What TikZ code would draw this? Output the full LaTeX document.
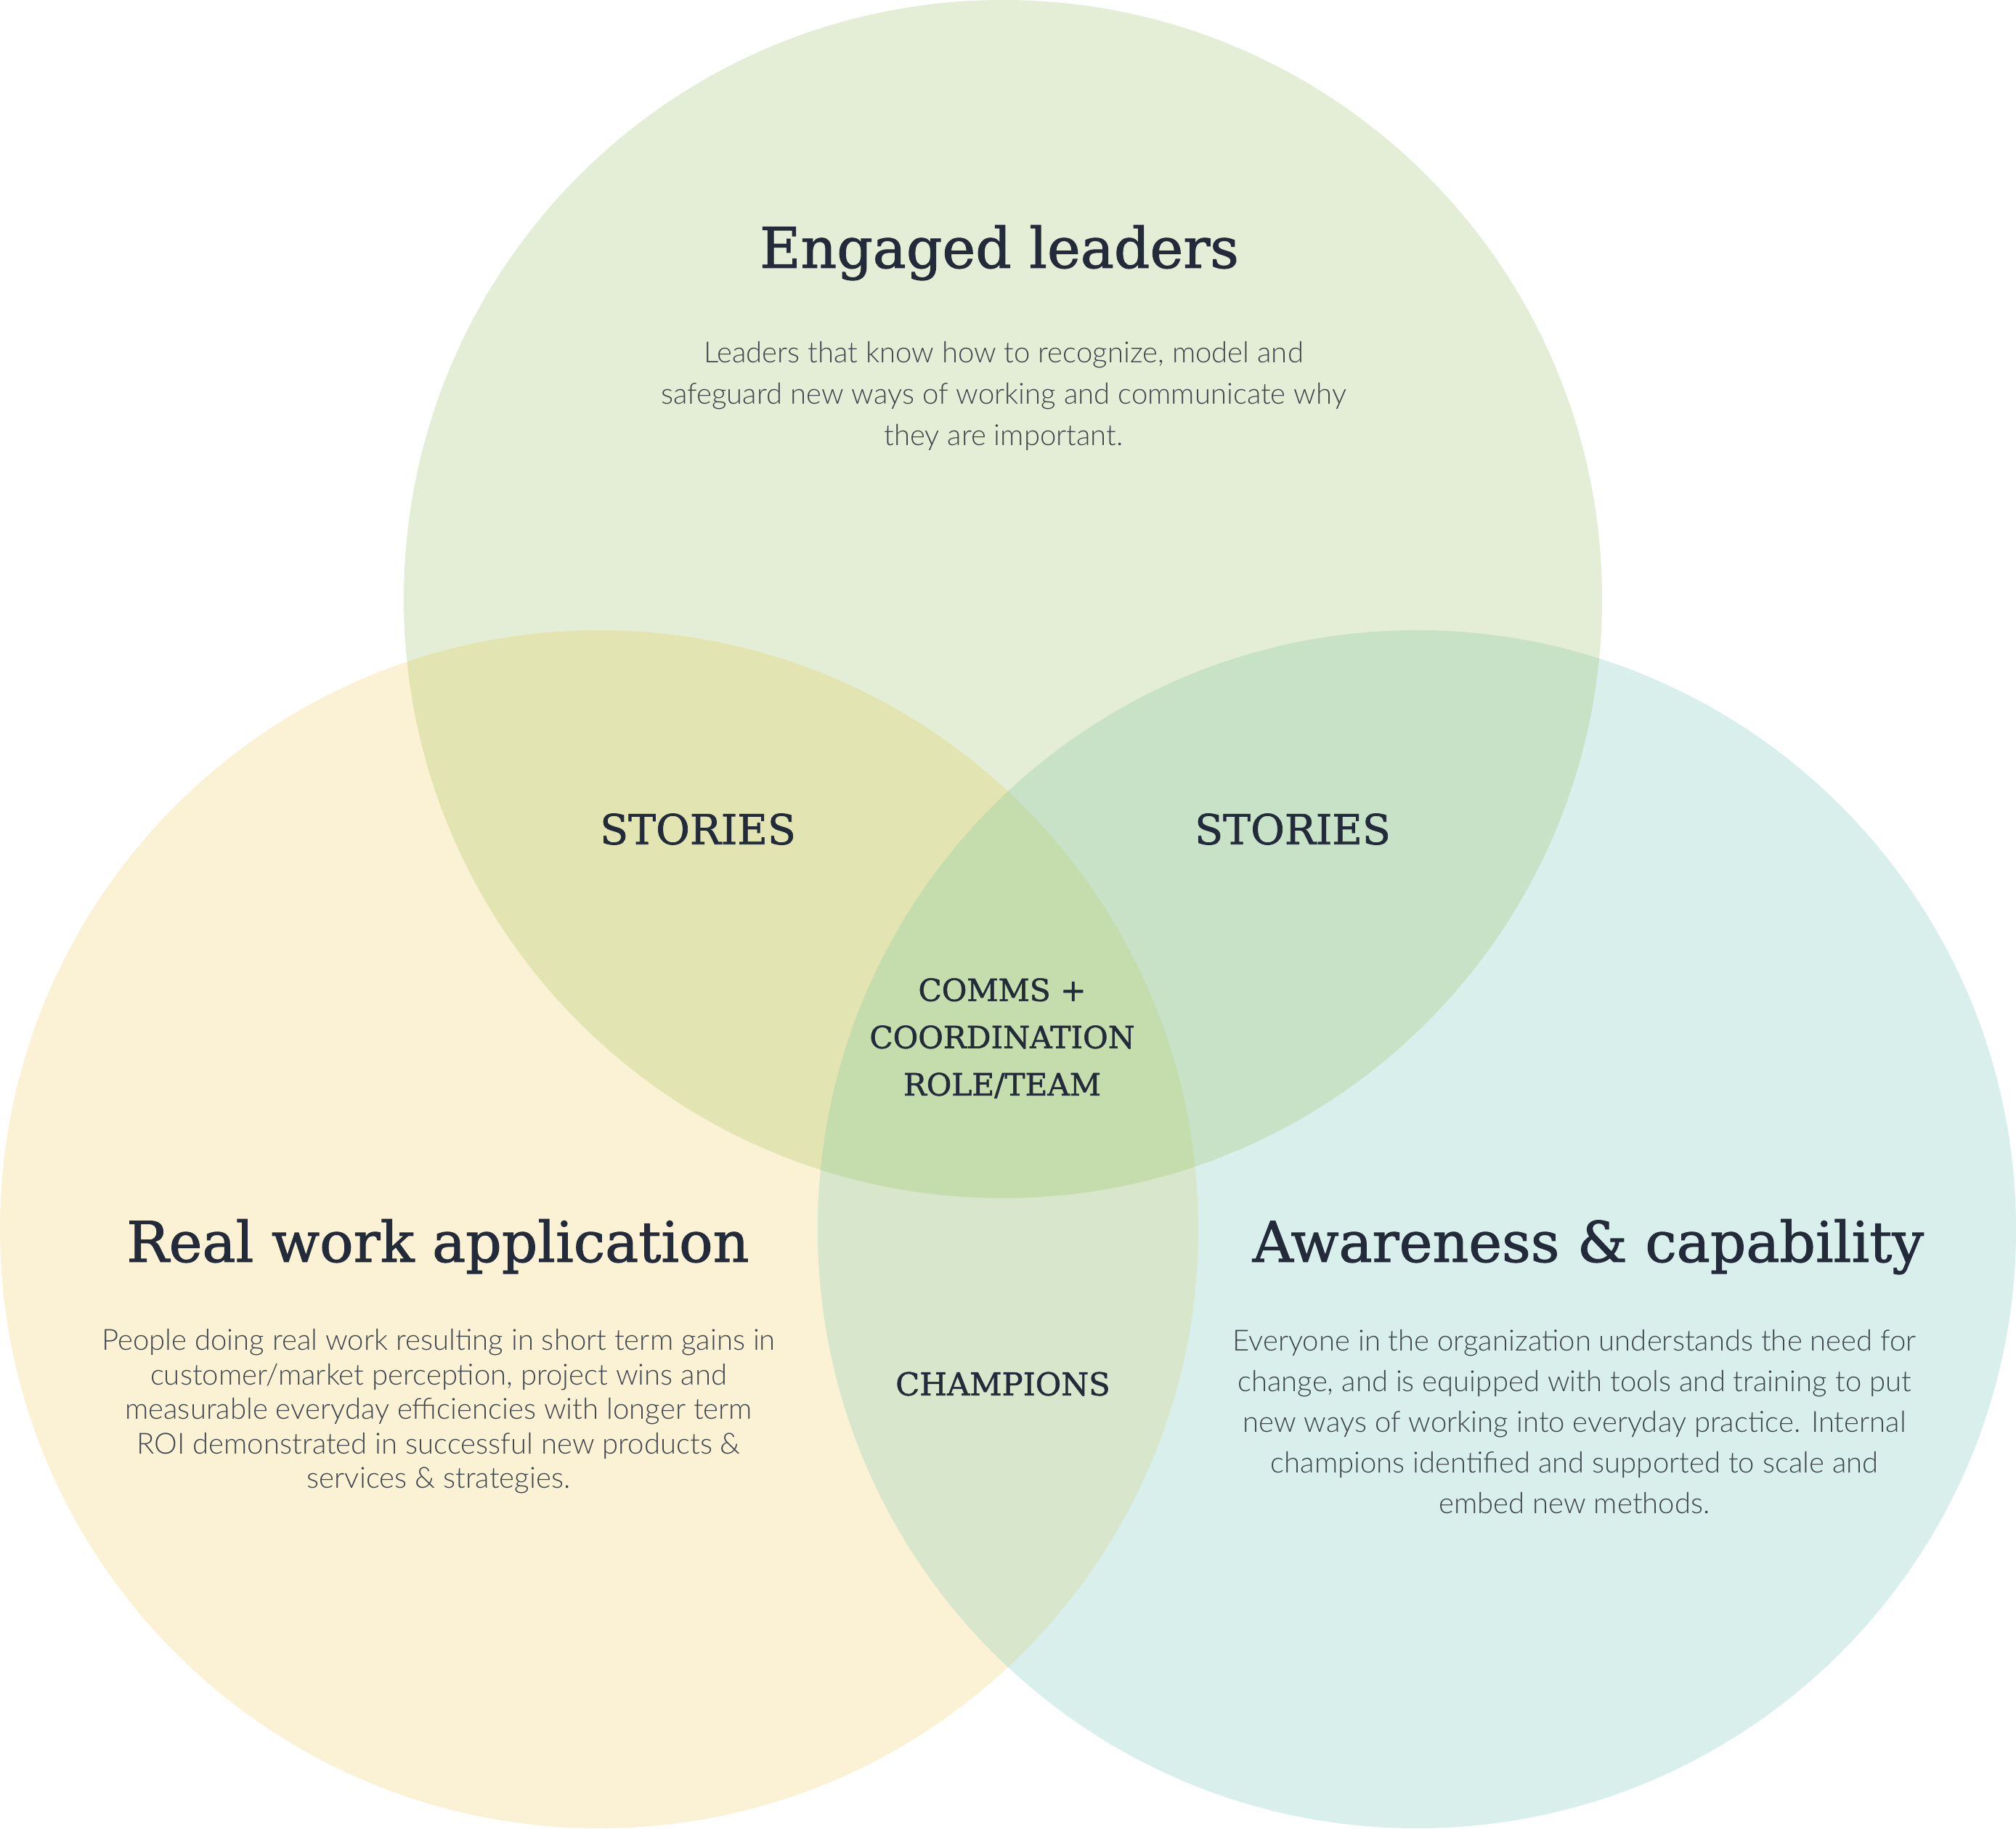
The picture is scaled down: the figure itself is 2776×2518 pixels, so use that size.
\documentclass[tikz,border=0pt]{standalone}
\usepackage{fontspec}
\setmainfont{Lato Light}
\newfontfamily\slabfont[FakeBold=1.3]{DejaVu Serif}
\usetikzlibrary{positioning}
\definecolor{topgreen}{HTML}{E4EED6}
\definecolor{leftcream}{HTML}{FBF2D5}
\definecolor{rightteal}{HTML}{D8EFEB}
\definecolor{tlolive}{HTML}{E2E4B1}
\definecolor{trgreen}{HTML}{C7E2C7}
\definecolor{lrsage}{HTML}{D8E6CB}
\definecolor{midgreen}{HTML}{C5DCAC}
\definecolor{ink}{HTML}{232B3A}
\definecolor{greytext}{HTML}{3F454C}

\begin{document}
\begin{tikzpicture}[x=0.01cm,y=0.01cm,
  titel/.style={font=\slabfont\fontsize{22}{26}\selectfont, text=ink, inner sep=0pt, anchor=base},
  schnitt/.style={font=\slabfont\fontsize{#1}{18.5}\selectfont, text=ink, inner sep=0pt, align=center},
  beschr/.style={font=\fontsize{11.4}{#1}\selectfont, text=greytext, inner sep=0pt, align=center}]
\useasboundingbox (0,0) rectangle (2776,2518);
% Die Kreise
\coordinate (ct) at (1381,1693);
\coordinate (cl) at (825,825);
\coordinate (cr) at (1951,825);
\foreach \c/\f in {ct/topgreen, cl/leftcream, cr/rightteal}
    \fill[\f] (\c) circle (825);
% Schnittflaechen
\begin{scope}
  \clip (cl) circle (825);
  \fill[lrsage] (cr) circle (825);
\end{scope}
\begin{scope}
  \clip (ct) circle (825);
  \fill[tlolive] (cl) circle (825);
  \fill[trgreen] (cr) circle (825);
\end{scope}
\begin{scope}
  \clip (ct) circle (825);
  \clip (cl) circle (825);
  \fill[midgreen] (cr) circle (825);
\end{scope}

% Beschriftungen
\node[titel] (engaged) at (1376,2149) {Engaged leaders};
\node[beschr=16.2pt] (engagedtxt) at (1382,1973) {Leaders that know how to recognize, model and\\
    safeguard new ways of working and communicate why\\ they are important.};
\node[schnitt=16.2] (storiesl) at (961,1376) {STORIES};
\node[schnitt=16.2] (storiesr) at (1780,1376) {STORIES};
\node[schnitt=12] (comms) at (1380,1088) {COMMS +\\ COORDINATION\\ ROLE/TEAM};
\node[schnitt=12.3] (champions) at (1381,612) {CHAMPIONS};
\node[titel] (realwork) at (603,780) {Real work application};
\node[beschr=13.5pt] (realworktxt) at (604,574) {People doing real work resulting in short term gains in\\
    customer/market perception, project wins and\\ measurable everyday efficiencies with longer term\\
    ROI demonstrated in successful new products \&\\ services \& strategies.};
\node[titel] (awareness) at (2187,780) {Awareness \& capability};
\node[beschr=15.9pt] (awarenesstxt) at (2168,560) {Everyone in the organization understands the need for\\
    change, and is equipped with tools and training to put\\ new ways of working into everyday practice. Internal\\
    champions identified and supported to scale and\\ embed new methods.};
\end{tikzpicture}
\end{document}
